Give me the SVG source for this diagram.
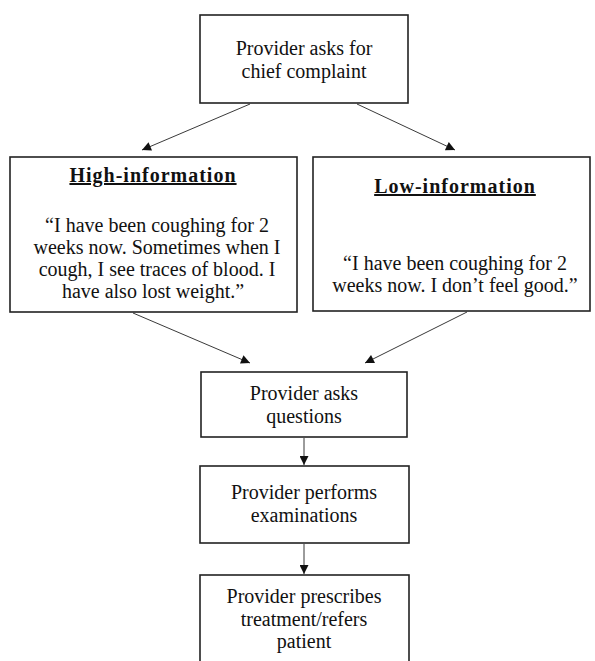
<svg xmlns="http://www.w3.org/2000/svg" width="595" height="661" viewBox="0 0 595 661">
<defs>
<style>
.box{fill:#fff;stroke:#222;stroke-width:1.6}
.t{font-family:"Liberation Serif","DejaVu Serif",serif;font-size:20px;fill:#111;text-anchor:middle}
.h{font-weight:bold;text-decoration:underline;letter-spacing:1px}
.c{stroke:#222;stroke-width:0.9;fill:none}
</style>
<marker id="ah" viewBox="0 0 10 10" refX="10" refY="5" markerWidth="10" markerHeight="9" markerUnits="userSpaceOnUse" orient="auto">
<path d="M0,0 L10,5 L0,10 z" fill="#111"/>
</marker>
</defs>
<rect width="595" height="661" fill="#fff"/>
<g id="n1">
<rect class="box" x="200" y="15" width="208" height="88"/>
<text class="t" x="304" y="55">Provider asks for</text>
<text class="t" x="304" y="78">chief complaint</text>
</g>
<g id="n2">
<rect class="box" x="10" y="157" width="287" height="155"/>
<text class="t h" x="153" y="182">High-information</text>
<text class="t" x="157" y="232">“I have been coughing for 2</text>
<text class="t" x="157" y="254">weeks now. Sometimes when I</text>
<text class="t" x="157" y="276">cough, I see traces of blood. I</text>
<text class="t" x="153" y="298">have also lost weight.”</text>
</g>
<g id="n3">
<rect class="box" x="313" y="157" width="277" height="154"/>
<text class="t h" x="455" y="193">Low-information</text>
<text class="t" x="455" y="270">“I have been coughing for 2</text>
<text class="t" x="455" y="292">weeks now. I don’t feel good.”</text>
</g>
<g id="n4">
<rect class="box" x="201" y="372" width="206" height="65"/>
<text class="t" x="304" y="400">Provider asks</text>
<text class="t" x="304" y="423">questions</text>
</g>
<g id="n5">
<rect class="box" x="200" y="466" width="209" height="77"/>
<text class="t" x="304" y="499">Provider performs</text>
<text class="t" x="304" y="522">examinations</text>
</g>
<g id="n6">
<rect class="box" x="200" y="575" width="209" height="100"/>
<text class="t" x="304" y="603">Provider prescribes</text>
<text class="t" x="304" y="626">treatment/refers</text>
<text class="t" x="304" y="648">patient</text>
</g>
<g id="connectors">
<line class="c" x1="250" y1="104" x2="142" y2="150" marker-end="url(#ah)"/>
<line class="c" x1="357" y1="104" x2="455" y2="150" marker-end="url(#ah)"/>
<line class="c" x1="133" y1="313" x2="250" y2="363" marker-end="url(#ah)"/>
<line class="c" x1="467" y1="312" x2="365" y2="363" marker-end="url(#ah)"/>
<line class="c" x1="304" y1="438" x2="304" y2="465" marker-end="url(#ah)"/>
<line class="c" x1="304" y1="544" x2="304" y2="574" marker-end="url(#ah)"/>
</g>
</svg>
